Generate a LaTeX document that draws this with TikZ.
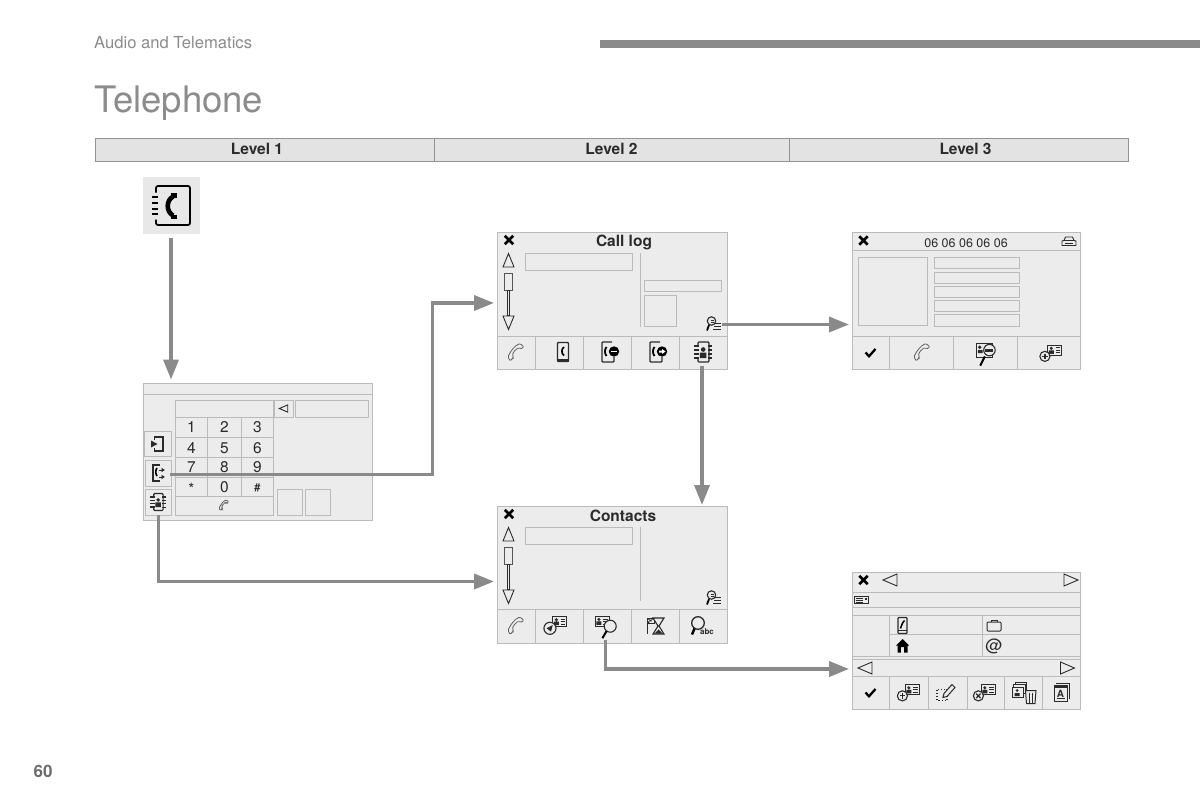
\documentclass[tikz,border=0pt]{standalone}
\usepackage{fontspec}
\setmainfont{TeX Gyre Heros}
\usetikzlibrary{arrows.meta}
\definecolor{panelfill}{HTML}{ECECEC}
\definecolor{rulegrey}{HTML}{BBBBBB}
\definecolor{ink}{HTML}{2B2B2B}
\definecolor{linkgrey}{HTML}{8A8A8A}
\definecolor{titlegrey}{HTML}{8C8C8C}
\newcommand{\px}[1]{\fontsize{#1}{#1}\selectfont}
\tikzset{
  x=1pt, y=-1pt,
  panel/.style={draw=rulegrey, fill=panelfill, line width=1, anchor=north west, inner sep=0, outer sep=0},
  levelbar/.style={panel, draw=gray!85, fill=black!11, minimum height=23},
  levellabel/.style={inner sep=0, anchor=base, text=ink, font=\px{15.5}\bfseries},
  rl/.style={draw=rulegrey, line width=1},
  box/.style={draw=rulegrey, line width=1},
  ic/.style={draw=ink, line width=.9},
  tri/.style={draw=ink, line width=.9, line join=miter},
  conn/.style={draw=linkgrey, line width=3.6, line join=miter, -{Triangle[length=20pt,width=15pt]}},
  digit/.style={text=ink, inner sep=0, font=\px{15.5}},
  pics/closex/.style={code={\draw[draw=black, line width=2.6] (-4.2,-4.2)--(4.2,4.2) (-4.2,4.2)--(4.2,-4.2);}},
  pics/tick/.style={code={\draw[draw=black, line width=2.3] (-5,0)--(-1.5,3.8)--(5,-3.5);}},
  pics/handset/.style={code={
    \draw[draw=gray!75!black, line width=.8, fill=panelfill, rounded corners=1.2]
      (-8,4) .. controls (-5,-2) and (-1,-7) .. (4,-9) -- (8,-5.5) -- (4.5,-3.5) -- (2.5,-5)
      .. controls (-.5,-3) and (-3,0) .. (-3.5,3) -- (-2.5,5) -- (-6,8.5) -- cycle;
  }},
  pics/bookmark/.style={code={
    \draw[ic, line width=1.2, rounded corners=1] (-5,-6)--(-5,-10)--(6,-10)--(6,10)--(-5,10)--(-5,6);
    \draw[draw=ink, line width=1.3] (-9,-6)--(-4,-6) (-9,-2)--(-4,-2) (-9,2)--(-4,2) (-9,6)--(-4,6);
    \fill[ink] (.2,-2.5) circle (2.3) (-3.2,6) rectangle (3.4,0.5);
    \draw[draw=ink, line width=1.2] (5,-6)--(9,-6) (5,-2)--(9,-2) (5,2)--(9,2) (5,6)--(9,6);
  }},
  pics/phonecase/.style={code={
    \draw[ic, line width=1.4, rounded corners=.8] (-5.5,-9.5) rectangle (5.5,9.5);
    \draw[draw=black, line width=1.7] (1,-5) .. controls (-1.8,-3) and (-1.8,1.5) .. (1,3.5);
    \fill[ink] (-5.5,6.8) rectangle (5.5,9.5);
  }},
  pics/phoneminus/.style={code={
    \draw[ic, line width=1.3, rounded corners=.8] (4,-10)--(-6,-10)--(-6,10)--(6,10)--(6,5);
    \draw[draw=black, line width=1.8] (-1.5,-5) .. controls (-3.5,-3) and (-3.5,2) .. (-1.5,4);
    \fill[black] (6,-.5) circle (5.2);
    \draw[draw=white, line width=1.5] (3,-.5)--(9,-.5);
  }},
  pics/phonearrow/.style={code={
    \draw[ic, line width=1.3, rounded corners=.8] (4,-10)--(-6,-10)--(-6,10)--(6,10)--(6,5);
    \draw[draw=black, line width=1.8] (-1.5,-5) .. controls (-3.5,-3) and (-3.5,2) .. (-1.5,4);
    \fill[black] (6,-.5) circle (5.2);
    \fill[white] (3,-1.5) rectangle (6,.5) (6,-3)--(9.5,-.5)--(6,2)--cycle;
  }},
  pics/findlist/.style={code={
    \draw[ic, line width=1.1] (-2.5,-3) circle (4.2);
    \draw[draw=black, line width=1.8] (-5,1)--(-7,6.5);
    \draw[draw=ink, line width=.9] (-3.5,-4)--(0,-4) (-3.5,-2)--(0,-2) (1,-1)--(7,-1) (0,2)--(7,2) (-1,5)--(7,5);
  }},
  pics/card/.style={code={
    \draw[ic, line width=1] (-7,-5) rectangle (7,5);
    \fill[ink] (-3.5,-2) circle (1.7) (-6,3.5) rectangle (-1,0);
    \draw[draw=ink, line width=.8] (1,-2.5)--(5.5,-2.5) (1,0)--(5.5,0) (1,2.5)--(5.5,2.5);
  }},
  pics/cardplus/.style={code={
    \pic at (3,-2) {card};
    \draw[fill=panelfill, ic, line width=1.1] (-6,3.5) circle (4.6);
    \draw[draw=ink, line width=1.2] (-8.5,3.5)--(-3.5,3.5) (-6,1)--(-6,6);
  }},
  pics/cardcross/.style={code={
    \pic at (3,-2) {card};
    \draw[fill=panelfill, ic, line width=1.1] (-6,3.5) circle (4.6);
    \draw[draw=ink, line width=1.2] (-8,1.5)--(-4,5.5) (-8,5.5)--(-4,1.5);
  }},
  pics/cardsend/.style={code={
    \pic at (3.5,-3) {card};
    \draw[fill=panelfill, ic, line width=1.1] (-5.5,3) circle (5.5);
    \fill[ink] (-8.5,3)--(-3,0)--(-4.5,6)--cycle;
  }},
  pics/cardfind/.style={code={
    \pic at (-3,-3) {card};
    \draw[fill=panelfill, ic, line width=1.1] (3.5,1) circle (5);
    \draw[draw=black, line width=2] (0.5,5)--(-3,11);
  }},
  pics/carfind/.style={code={
    \draw[ic, line width=1] (-8,-8) rectangle (6,4);
    \fill[ink] (-5.5,-5) circle (1.6) (-7,0) rectangle (-3,-2.5);
    \draw[fill=panelfill, ic, line width=1.1] (3,-2.5) circle (5);
    \fill[ink] (-.5,-3.5) rectangle (6.5,-.5);
    \draw[draw=black, line width=2] (-1,3)--(-5,11);
  }},
  pics/flagglass/.style={code={
    \draw[ic, line width=1] (-9,-8) rectangle (-2,-3);
    \fill[ink] (-9,-8) rectangle (-6.7,-6.3) (-4.4,-8) rectangle (-2,-6.3) (-6.7,-6.3) rectangle (-4.4,-4.6) (-9,-4.6) rectangle (-6.7,-3);
    \fill[ink] (-9.5,-8) rectangle (-8.5,8);
    \draw[ic, line width=1.1, fill=panelfill] (-3,-8)--(8,-8)--(3,0)--(8,8)--(-3,8)--(2,0)--cycle;
    \fill[ink] (-1.5,7.5)--(6.5,7.5)--(2.5,3.5)--cycle;
  }},
  pics/findabc/.style={code={
    \draw[ic, line width=1.3] (0,-3) circle (6.3);
    \draw[draw=black, line width=2.4] (-3.5,2.5)--(-6,8.5);
    \node[inner sep=0, text=ink, font=\px{8}\bfseries] (abcmark) at (9,6) {abc};
  }},
  pics/autoicon/.style={code={
    \draw[ic, line width=.9] (-7,4)--(-7,-.5)--(-5,-1)--(-3.5,-4.5)--(3.5,-4.5)--(5,-1)--(7,-.5)--(7,4)--cycle;
    \draw[draw=ink, line width=.8] (-5,-1)--(5,-1) (-4,1.5)--(4,1.5);
  }},
  pics/dooricon/.style={code={
    \draw[ic, line width=1.2] (-4,-7)--(5,-7)--(5,7)--(-4,7);
    \fill[ink] (-7,-3.5)--(-.5,0)--(-7,3.5)--cycle;
    \draw[draw=ink, line width=1] (-4,-7)--(-4,-4) (-4,7)--(-4,4);
  }},
  pics/phonemove/.style={code={
    \draw[ic, line width=1.2] (2,-8)--(-5,-8)--(-5,8)--(2,8);
    \draw[draw=black, line width=1.6] (-1,-5) .. controls (-2.6,-3) and (-2.6,1) .. (-1,3);
    \draw[draw=ink, line width=1, -{Latex[length=3.5pt,width=5pt]}] (1,-3)--(7,-3);
    \draw[draw=ink, line width=1, -{Latex[length=3.5pt,width=5pt]}] (1,4)--(7,4);
  }},
  pics/bigbook/.style={code={
    \draw[draw=black, line width=1.7, rounded corners=2] (-15,-13)--(-15,-19.5)--(19,-19.5)--(19,19.5)--(-15,19.5)--(-15,14);
    \draw[draw=black, line width=2] (-19,-8.5)--(-13,-8.5) (-19,-3)--(-13,-3) (-19,3)--(-13,3) (-19,8.5)--(-13,8.5);
    \draw[draw=black, line width=4.6] (2,-9) .. controls (-5,-5) and (-5,6) .. (2,10);
    \draw[draw=black, line width=6.5] (3,-12.5)--(3,-8) (3,9)--(3,13);
  }},
  pics/mobile/.style={code={
    \draw[ic, line width=1.2, rounded corners=.8] (-4.5,-8)--(4.5,-8)--(4.5,8)--(-4.5,8)--cycle;
    \draw[draw=ink, line width=.9] (-4.5,4.5)--(4.5,4.5);
    \draw[draw=black, line width=1.5] (2,-5) .. controls (-1,-2) and (-1,1) .. (-2,3);
  }},
  pics/suitcase/.style={code={
    \draw[ic, line width=1, rounded corners=1] (-7,-4) rectangle (7,5);
    \draw[ic, line width=1] (-3,-4)--(-3,-6)--(3,-6)--(3,-4);
  }},
  pics/house/.style={code={
    \fill[black] (-6.5,-.5)--(0,-7)--(6.5,-.5)--(5,-.5)--(5,6.5)--(1.6,6.5)--(1.6,1)--(-1.6,1)--(-1.6,6.5)--(-5,6.5)--(-5,-.5)--cycle;
  }},
  pics/stripcard/.style={code={
    \draw[ic, line width=.9] (-7,-3.8) rectangle (7,3.8);
    \draw[draw=ink, line width=.8] (-5.5,-1.5)--(2,-1.5) (-5.5,.5)--(2,.5) (-5.5,2.4)--(2,2.4);
    \fill[ink] (3.5,-2.5) rectangle (5.5,-.5);
  }},
  pics/dotpencil/.style={code={
    \draw[draw=ink, line width=1.1, dotted] (-9,-3) rectangle (1,8);
    \draw[ic, line width=1, fill=panelfill] (-3,5)--(-2,1)--(6,-8)--(9,-5)--(1,4)--cycle;
  }},
  pics/stacktrash/.style={code={
    \draw[ic, line width=1, fill=panelfill] (-8,-10) rectangle (3,-1);
    \draw[ic, line width=1, fill=panelfill] (-10,-8) rectangle (1.5,1);
    \draw[ic, line width=1, fill=panelfill] (-11.5,-5.5) rectangle (0,5);
    \fill[ink] (-6.5,-2) circle (1.5) (-9,3.5) rectangle (-4,.5);
    \draw[ic, line width=1, fill=panelfill] (2,-2)--(12.5,-2)--(11.5,11)--(3,11)--cycle;
    \draw[draw=ink, line width=.9] (5.5,0)--(5.5,10) (9,0)--(9,10);
  }},
  pics/letterstack/.style={code={
    \draw[ic, line width=1] (-5,-9)--(8,-9)--(8,7);
    \draw[ic, line width=1] (-7,-7)--(6,-7)--(6,9)--(-7,9)--cycle;
    \fill[ink] (-7,-7) rectangle (6,-4.5);
    \node[inner sep=0, text=ink, font=\px{10}\bfseries] (lettermark) at (-.5,1.5) {A};
    \draw[draw=ink, line width=1] (-4.5,6.5)--(3.5,6.5);
  }},
  pics/upperscroll/.style={code={
    \draw[tri] (-5.5,7)--(0,-6.5)--(5.5,7)--cycle;
    \draw[draw=ink!80, line width=1] (-4,13.5) rectangle (4,30);
    \draw[draw=ink, line width=.9, fill=panelfill] (-1.1,30) rectangle (1.1,55);
    \draw[tri] (-5.5,56)--(0,69.5)--(5.5,56)--cycle;
  }},
  pics/lefttri/.style={code={\draw[tri] (-7,0)--(7,-6)--(7,6)--cycle;}},
  pics/righttri/.style={code={\draw[tri] (7,0)--(-7,-6)--(-7,6)--cycle;}}
}
\begin{document}
\begin{tikzpicture}
\useasboundingbox (0,0) rectangle (1200,800);
\fill[white] (0,0) rectangle (1200,800);

% Page header
\node[anchor=base west, inner sep=0, text=titlegrey, font=\px{16.6}] (section) at (94,48.5) {Audio and Telematics};
\fill[linkgrey] (600,40) rectangle (1200,48);
\node[anchor=base west, inner sep=0, text=titlegrey, font=\px{36.5}] (title) at (94,112) {Telephone};
\node[anchor=base, inner sep=0, text=gray!85!black, font=\px{17}\bfseries] (pageno) at (43,777) {60};

% Level bar
\node[levelbar, minimum width=339] (lvla) at (95,138) {};
\node[levelbar, minimum width=355.5] (lvlb) at (434,138) {};
\node[levelbar, minimum width=339] (lvlc) at (789.5,138) {};
\node[levellabel] (lvlatext) at (257,154) {Level 1};
\node[levellabel] (lvlbtext) at (611.5,154) {Level 2};
\node[levellabel] (lvlctext) at (965.5,154) {Level 3};

% Phonebook shortcut
\node[anchor=north west, fill=black!9, minimum width=57, minimum height=57, inner sep=0] (shortcut) at (142.5,177) {};
\pic at (171,205.5) {bigbook};

% Dial screen
\node[panel, minimum width=229, minimum height=137.5] (dial) at (143,383) {};
\draw[rl] (143,394)--(372,394);
\draw[box] (175,400) rectangle (273.5,417);
\draw[box] (274.5,400) rectangle (293,417);
\draw[box] (295,400) rectangle (368,417);
\pic[scale=.6] at (283.5,408.5) {lefttri};
\foreach \xa in {175,207.5,241,273.5} \draw[rl] (\xa,417)--(\xa,496);
\foreach \ya in {437,457,477,496} \draw[rl] (175,\ya)--(273.5,\ya);
\draw[box] (175,496) rectangle (273.5,515);
\node[digit] (kone) at (191.5,427.5) {1};
\node[digit] (ktwo) at (224.5,427.5) {2};
\node[digit] (kthree) at (257.5,427.5) {3};
\node[digit] (kfour) at (191.5,448) {4};
\node[digit] (kfive) at (224.5,448) {5};
\node[digit] (ksix) at (257.5,448) {6};
\node[digit] (kseven) at (191.5,467.5) {7};
\node[digit] (keight) at (224.5,467.5) {8};
\node[digit] (knine) at (257.5,467.5) {9};
\node[digit] (kstar) at (191.5,489) {*};
\node[digit] (kzero) at (224.5,487.5) {0};
\node[digit, font=\px{11}\bfseries] (khash) at (257.5,487.5) {\#};
\pic[scale=.62] at (224,505.5) {handset};
\draw[box] (144,431) rectangle (171,456);
\draw[box] (145,460) rectangle (171,486);
\draw[box] (145,489.5) rectangle (171,515);
\draw[box] (277.5,489.5) rectangle (302,515);
\draw[box] (305.5,489.5) rectangle (330.5,515);
\pic at (158,444) {dooricon};
\pic at (158,473) {phonemove};
\pic[scale=.85] at (158,502) {bookmark};
\coordinate (dialToLog) at (170,474.5);
\coordinate (dialToContacts) at (158,515);

% Call log screen
\node[panel, minimum width=229.5, minimum height=137] (log) at (497.5,232) {};
\node[inner sep=0, anchor=base, text=ink, font=\px{15.5}\bfseries] (logtitle) at (624,246) {Call log};
\pic at (509,240) {closex};
\pic at (508.5,260) {upperscroll};
\draw[box] (525,253) rectangle (632,270);
\draw[rl] (640,253)--(640,327);
\draw[box] (644.5,280) rectangle (721.5,291);
\draw[box] (644.5,295) rectangle (676,326);
\pic at (714,324) {findlist};
\draw[rl] (497.5,336)--(727,336);
\foreach \xa in {535,583,631,679} \draw[rl] (\xa,336)--(\xa,369);
\pic at (516,352.5) {handset};
\pic at (563,352) {phonecase};
\pic at (608,352) {phoneminus};
\pic at (656,352) {phonearrow};
\pic at (703,352) {bookmark};
\coordinate (logFind) at (722,324.5);
\coordinate (logBook) at (702,366);

% Contacts screen
\node[panel, minimum width=229.5, minimum height=137.5] (contacts) at (497.5,506) {};
\node[inner sep=0, anchor=base, text=ink, font=\px{15.5}\bfseries] (contactstitle) at (623,521) {Contacts};
\pic at (509,514) {closex};
\pic at (508.5,534) {upperscroll};
\draw[box] (525,527) rectangle (632,544);
\draw[rl] (640,527)--(640,601);
\pic at (714,598) {findlist};
\draw[rl] (497.5,609.5)--(727,609.5);
\foreach \xa in {535,583,631,679} \draw[rl] (\xa,609.5)--(\xa,643);
\pic at (516,626) {handset};
\pic[scale=1.1] at (556,625) {cardsend};
\pic[scale=1.2] at (606,625) {cardfind};
\pic at (656,626) {flagglass};
\pic at (698,626) {findabc};
\coordinate (contactsFind) at (605.5,640);

% Call details screen
\node[panel, minimum width=228.5, minimum height=137] (detail) at (852,232) {};
\pic at (863.5,240.5) {closex};
\node[inner sep=0, anchor=base, text=ink, font=\px{12.5}] (number) at (966,247) {06 06 06 06 06};
\pic at (1069,241.5) {autoicon};
\draw[rl] (852,250.5)--(1080.5,250.5);
\draw[box] (858,257) rectangle (927,325);
\draw[box] (934,257) rectangle (1019,268.5);
\draw[box] (934,272) rectangle (1019,283);
\draw[box] (934,286) rectangle (1019,297);
\draw[box] (934,300.5) rectangle (1019,311.5);
\draw[box] (934,314.5) rectangle (1019,326);
\draw[rl] (852,336.5)--(1080.5,336.5);
\foreach \xa in {889,953,1017} \draw[rl] (\xa,336.5)--(\xa,369);
\pic at (870.5,352.5) {tick};
\pic at (922,352.5) {handset};
\pic[scale=1.15] at (986,353) {carfind};
\pic[scale=1.1] at (1051.5,352.5) {cardplus};

% Contact card screen
\node[panel, minimum width=228.5, minimum height=137] (card) at (852,572) {};
\pic at (863.5,580) {closex};
\pic at (890,580) {lefttri};
\pic at (1071,580) {righttri};
\draw[rl] (852,592.5)--(1080.5,592.5);
\draw[rl] (852,607)--(1080.5,607);
\draw[rl] (852,615.5)--(1080.5,615.5);
\draw[rl] (889.5,634.5)--(1080.5,634.5);
\draw[rl] (852,656)--(1080.5,656);
\draw[rl] (852,659.5)--(1080.5,659.5);
\draw[rl] (852,676.5)--(1080.5,676.5);
\draw[rl] (889.5,615.5)--(889.5,656);
\draw[rl] (982.5,615.5)--(982.5,656);
\pic at (861,600) {stripcard};
\pic at (902.5,625.5) {mobile};
\pic at (994,626) {suitcase};
\pic at (902.5,646) {house};
\node[inner sep=0, text=ink, font=\px{17}] (atsign) at (994,646.5) {@};
\pic at (865,668) {lefttri};
\pic at (1067.5,668) {righttri};
\foreach \xa in {889.5,928,967,1004,1042} \draw[rl] (\xa,676.5)--(\xa,709);
\pic at (870.5,692.5) {tick};
\pic[scale=1.1] at (909,692) {cardplus};
\pic at (946,692.5) {dotpencil};
\pic[scale=1.1] at (985,692) {cardcross};
\pic at (1023.5,692.5) {stacktrash};
\pic at (1061,692) {letterstack};

% Connectors between screens
\coordinate (elbowLog) at (432.5,303);
\coordinate (elbowContacts) at (158.5,581.5);
\coordinate (elbowFind) at (605.5,669);
\coordinate (logEntry) at (494,303);
\coordinate (contactsEntry) at (494,581.5);
\coordinate (detailEntry) at (849,324.5);
\coordinate (cardEntry) at (849,669);
\draw[conn, shorten <=3.5pt, shorten >=3.5pt] (shortcut.south -| 171,0) -- (171,383);
\draw[conn] (dialToLog) -- (dialToLog -| elbowLog) -- (elbowLog) -- (logEntry);
\draw[conn] (dialToContacts -| elbowContacts) -- (elbowContacts) -- (contactsEntry);
\draw[conn] (logFind) -- (detailEntry);
\draw[conn, shorten >=1pt] (logBook) -- (logBook |- contacts.north);
\draw[conn] (contactsFind) -- (elbowFind) -- (cardEntry);
\end{tikzpicture}
\end{document}
